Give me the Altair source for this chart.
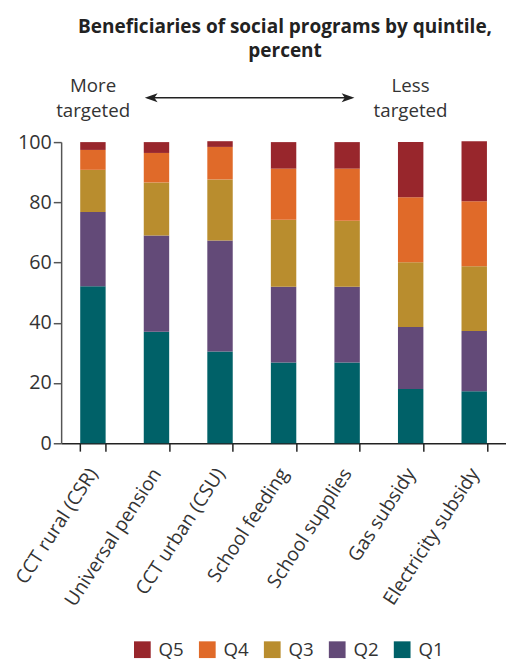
import altair as alt
import pandas as pd

programs = ["CCT rural (CSR)", "Universal pension", "CCT urban (CSU)",
            "School feeding", "School supplies", "Gas subsidy", "Electricity subsidy"]
q1 = [52.1, 37.0, 30.5, 26.8, 26.8, 18.0, 17.3]
q2 = [24.7, 32.0, 36.8, 25.2, 25.2, 20.6, 20.0]
q3 = [14.0, 17.6, 20.3, 22.2, 21.9, 21.5, 21.5]
q4 = [6.6, 9.8, 10.8, 17.0, 17.3, 21.6, 21.6]
q5 = [2.6, 3.6, 1.9, 8.8, 8.8, 18.3, 19.9]

quintiles = ["Q1", "Q2", "Q3", "Q4", "Q5"]
legend_order = ["Q5", "Q4", "Q3", "Q2", "Q1"]
colors = ["#98262c", "#e06a29", "#b98d2e", "#634a78", "#006168"]
y_ticks = [0, 20, 40, 60, 80, 100]

title_lines = ["Beneficiaries of social programs by quintile,", "percent"]
left_note = ["More", "targeted"]
right_note = ["Less", "targeted"]

rows = []
for qi, (q, vals) in enumerate(zip(quintiles, [q1, q2, q3, q4, q5])):
    for p, v in zip(programs, vals):
        rows.append({"program": p, "quintile": q, "value": v, "rank": qi})
df = pd.DataFrame(rows)

FONT = "Open Sans"
TXT = "#333333"
W, H = 452, 306

bars = alt.Chart(df).mark_bar().encode(
    x=alt.X("program:N", sort=programs,
            scale=alt.Scale(paddingInner=0.6, paddingOuter=0.3),
            axis=alt.Axis(title=None, labelAngle=-57, labelAlign="right",
                          labelBaseline="middle", tickBand="extent", tickSize=8,
                          labelPadding=19, domainColor="#222222", domainWidth=1.5,
                          tickColor="#222222", tickWidth=1.5, labelFontSize=19.5,
                          labelFont=FONT, labelColor=TXT)),
    y=alt.Y("value:Q", stack="zero", scale=alt.Scale(domain=[0, 100], nice=False),
            axis=alt.Axis(values=y_ticks, title=None, grid=False, tickSize=8,
                          labelPadding=2, domainColor="#555555", domainWidth=1.5,
                          tickColor="#555555", tickWidth=1.5, labelFontSize=20,
                          labelFont=FONT, labelColor=TXT)),
    color=alt.Color("quintile:N",
                    scale=alt.Scale(domain=legend_order, range=colors),
                    legend=alt.Legend(orient="none", legendX=73, legendY=506,
                                      direction="horizontal", title=None,
                                      symbolType="square", symbolSize=289,
                                      symbolStrokeWidth=0, symbolOpacity=1,
                                      labelFontSize=19, labelFont=FONT,
                                      labelColor=TXT, labelOffset=7,
                                      columnPadding=14)),
    order=alt.Order("rank:Q"),
)

one = pd.DataFrame({"k": [0]})

title = alt.Chart(one).mark_text(
    font=FONT, fontSize=19.3, fontWeight="bold", color="#222222",
    align="center", baseline="alphabetic", lineHeight=24,
).encode(x=alt.value(227.5), y=alt.value(-110.7), text=alt.value(title_lines))

note_l = alt.Chart(one).mark_text(
    font=FONT, fontSize=19, color=TXT, align="center", baseline="alphabetic",
    lineHeight=25,
).encode(x=alt.value(32.5), y=alt.value(-51), text=alt.value(left_note))

note_r = alt.Chart(one).mark_text(
    font=FONT, fontSize=19, color=TXT, align="center", baseline="alphabetic",
    lineHeight=25,
).encode(x=alt.value(355), y=alt.value(-51), text=alt.value(right_note))

arrow_line = alt.Chart(one).mark_rule(color="#222222", strokeWidth=1.5).encode(
    x=alt.value(88), x2=alt.value(295), y=alt.value(-45))

head_l = alt.Chart(one).mark_point(
    shape="M-1,0L1,-0.7L0.5,0L1,0.7Z", filled=True, size=169, color="#222222", opacity=1
).encode(x=alt.value(91.5), y=alt.value(-45))

head_r = alt.Chart(one).mark_point(
    shape="M1,0L-1,-0.7L-0.5,0L-1,0.7Z", filled=True, size=169, color="#222222", opacity=1
).encode(x=alt.value(291.5), y=alt.value(-45))

chart = alt.layer(bars, title, note_l, note_r, arrow_line, head_l, head_r).properties(
    width=W, height=H,
    autosize=alt.AutoSizeParams(type="none"),
    padding={"left": 54, "top": 131, "right": 0, "bottom": 218},
).configure_view(stroke=None)

chart.save("out.html", embed_options={"renderer": "svg", "actions": False})
